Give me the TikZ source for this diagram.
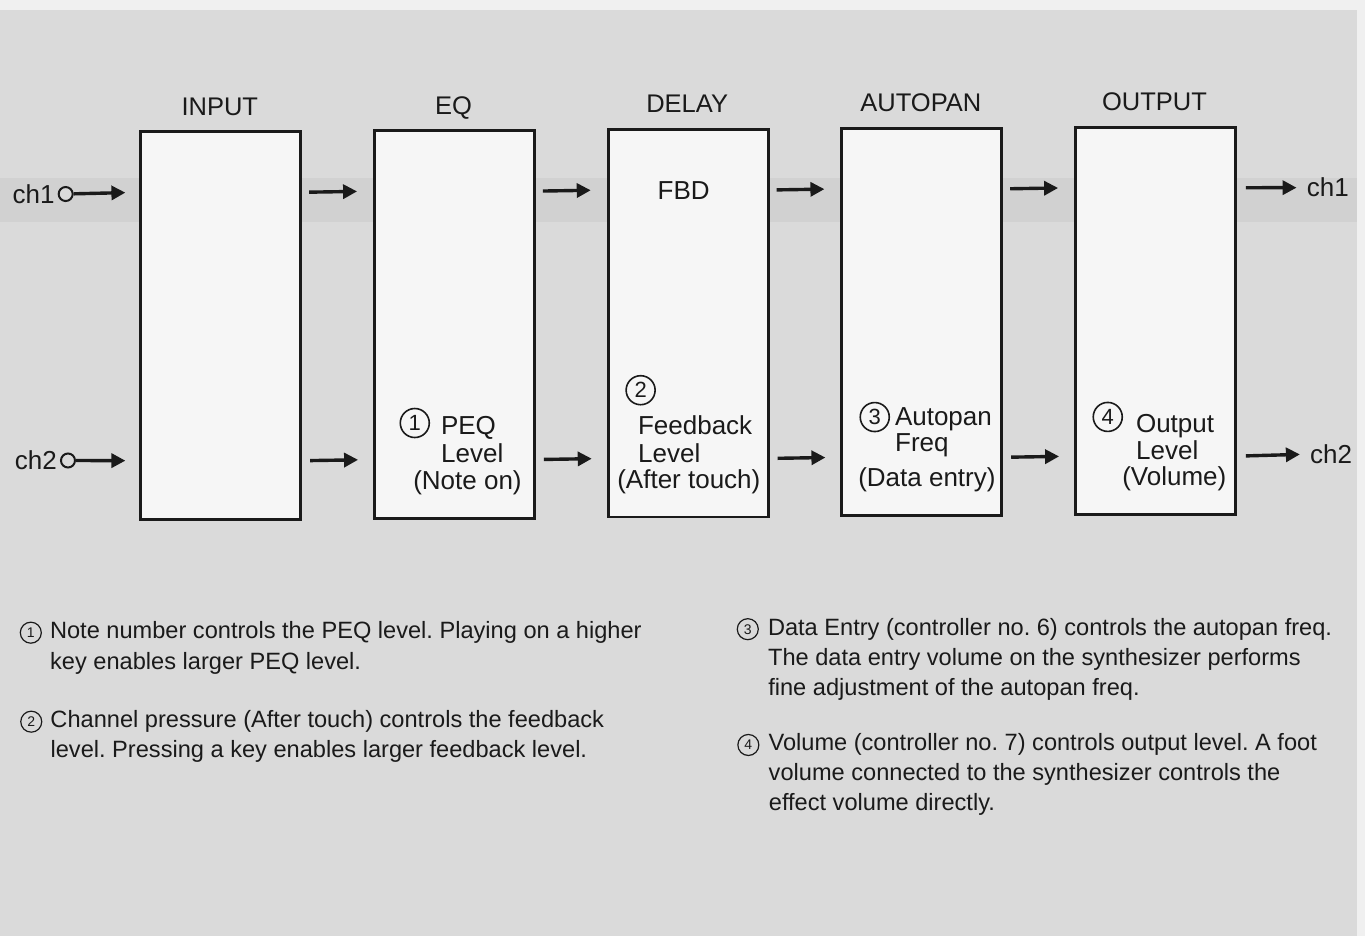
\documentclass[tikz,border=0pt]{standalone}
\usepackage{fontspec}
\setmainfont{Liberation Sans}
\usetikzlibrary{arrows.meta,calc}

\definecolor{page}{HTML}{DADADA}
\definecolor{pageedge}{HTML}{F0F0F0}
\definecolor{band}{HTML}{D1D1D1}
\definecolor{boxfill}{HTML}{F6F6F6}
\definecolor{ink}{HTML}{1A1A1A}

\begin{document}
\frenchspacing
\begin{tikzpicture}[x=1pt,y=-1pt,
  stage/.style={draw=ink, line width=2.8pt, fill=boxfill,
    minimum width=160pt, minimum height=387.5pt, inner sep=0pt},
  title/.style={font=\fontsize{25.5}{28}\selectfont, text=ink, anchor=base, inner sep=0pt},
  lbl/.style={font=\fontsize{26}{28}\selectfont, text=ink, anchor=base west, inner sep=0pt},
  sig/.style={-{Triangle[length=14pt,width=14pt]}, line width=3.4pt, draw=ink},
  jack/.style={circle, draw=ink, line width=2pt, fill=page, minimum size=14pt, inner sep=0pt},
  bignum/.style={circle, draw=ink, line width=1.6pt, minimum size=29pt, inner sep=0pt,
    font=\fontsize{22}{22}\selectfont, text=ink},
  smallnum/.style={circle, draw=ink, line width=1.2pt, minimum size=21pt, inner sep=0pt,
    font=\fontsize{14}{14}\selectfont, text=ink},
  note/.style={font=\fontsize{23.6}{30}\selectfont, text=ink, anchor=base west, inner sep=0pt},
]
% page
\useasboundingbox (0,0) rectangle (1365,936);
\fill[page] (0,0) rectangle (1365,936);
\fill[band] (0,178) rectangle (1357,222);
\fill[pageedge] (0,0) rectangle (1365,10);
\fill[pageedge] (1357,0) rectangle (1365,936);

\begin{scope}[rotate around={0.28:(683,468)}]
% processing stages
\node[stage] (in)  at (221.5,323.25) {};
\node[stage] (eq)  at (455.2,323.25) {};
\node[stage] (dl)  at (688.9,323.25) {};
\node[stage] (ap)  at (922.6,323.25) {};
\node[stage] (out) at (1156.3,323.25) {};

\node[title] (t-in)  at (221.5,113) {INPUT};
\node[title] (t-eq)  at (455.2,113) {EQ};
\node[title] (t-dl)  at (688.9,113) {DELAY};
\node[title] (t-ap)  at (922.6,113) {AUTOPAN};
\node[title] (t-out) at (1156.3,113) {OUTPUT};

% inputs
\node[jack] (j1) at (67,191) {};
\node[jack] (j2) at (68,457.5) {};
\node[lbl, anchor=base east] (ch1in) at (56,200) {ch1};
\node[lbl, anchor=base east] (ch2in) at (57,466.5) {ch2};

% outputs
\node[lbl] (ch1out) at (1308,200) {ch1};
\node[lbl] (ch2out) at (1310,466.5) {ch2};

% signal flow, channel 1
\draw[sig, shorten >=14pt] (j1) -- ($(in.north west)!0.1587!(in.south west)$);
\draw[sig, shorten <=7pt, shorten >=16pt] ($(in.north east)!0.1587!(in.south east)$) -- ($(eq.north west)!0.1587!(eq.south west)$);
\draw[sig, shorten <=7pt, shorten >=16pt] ($(eq.north east)!0.1587!(eq.south east)$) -- ($(dl.north west)!0.1587!(dl.south west)$);
\draw[sig, shorten <=7pt, shorten >=16pt] ($(dl.north east)!0.1587!(dl.south east)$) -- ($(ap.north west)!0.1587!(ap.south west)$);
\draw[sig, shorten <=7pt, shorten >=16pt] ($(ap.north east)!0.1587!(ap.south east)$) -- ($(out.north west)!0.1587!(out.south west)$);
\draw[sig, shorten <=9pt, shorten >=10pt] ($(out.north east)!0.1587!(out.south east)$) -- (ch1out.west);

% signal flow, channel 2
\draw[sig, shorten >=14pt] (j2) -- ($(in.north west)!0.8465!(in.south west)$);
\draw[sig, shorten <=8pt, shorten >=15pt] ($(in.north east)!0.8465!(in.south east)$) -- ($(eq.north west)!0.8465!(eq.south west)$);
\draw[sig, shorten <=8pt, shorten >=15pt] ($(eq.north east)!0.8465!(eq.south east)$) -- ($(dl.north west)!0.8465!(dl.south west)$);
\draw[sig, shorten <=8pt, shorten >=15pt] ($(dl.north east)!0.8465!(dl.south east)$) -- ($(ap.north west)!0.8465!(ap.south west)$);
\draw[sig, shorten <=8pt, shorten >=15pt] ($(ap.north east)!0.8465!(ap.south east)$) -- ($(out.north west)!0.8465!(out.south west)$);
\draw[sig, shorten <=9pt, shorten >=10pt] ($(out.north east)!0.8465!(out.south east)$) -- (ch2out.west);

% parameters inside the stages
\node[bignum] (n1) at (415,421.7) {1};
\node[lbl] (eq-a) at (441,433) {PEQ};
\node[lbl] (eq-b) at (441,461) {Level};
\node[lbl] (eq-c) at (413,488) {(Note on)};

\node[lbl, anchor=base] (fbd) at (685,199.3) {FBD};
\node[bignum] (n2) at (641,390) {2};
\node[lbl] (dl-a) at (638,434) {Feedback};
\node[lbl] (dl-b) at (638,462) {Level};
\node[lbl] (dl-c) at (617,488) {(After touch)};

\node[bignum] (n3) at (875,418) {3};
\node[lbl] (ap-a) at (895,427) {Autopan};
\node[lbl] (ap-b) at (895,453) {Freq};
\node[lbl] (ap-c) at (858,487) {(Data entry)};

\node[bignum] (n4) at (1108,419) {4};
\node[lbl] (out-a) at (1136,434.4) {Output};
\node[lbl] (out-b) at (1136,461.4) {Level};
\node[lbl] (out-c) at (1122,487.4) {(Volume)};

% notes
\node[smallnum] (f1) at (30,629.5) {1};
\node[note] (f1a) at (49,635.5) {Note number controls the PEQ level. Playing on a higher};
\node[note] (f1b) at (49,666) {key enables larger PEQ level.};

\node[smallnum] (f2) at (30,718.5) {2};
\node[note] (f2a) at (49,724.5) {Channel pressure (After touch) controls the feedback};
\node[note] (f2b) at (49,754) {level. Pressing a key enables larger feedback level.};

\node[smallnum] (f3) at (747,629.5) {3};
\node[note] (f3a) at (767,635.5) {Data Entry (controller no. 6) controls the autopan freq.};
\node[note] (f3b) at (767,665.5) {The data entry volume on the synthesizer performs};
\node[note] (f3c) at (767,695.5) {fine adjustment of the autopan freq.};

\node[smallnum] (f4) at (747,745.3) {4};
\node[note] (f4a) at (767,751.3) {Volume (controller no. 7) controls output level. A foot};
\node[note] (f4b) at (767,781.3) {volume connected to the synthesizer controls the};
\node[note] (f4c) at (767,811.3) {effect volume directly.};
\end{scope}
\end{tikzpicture}
\end{document}
